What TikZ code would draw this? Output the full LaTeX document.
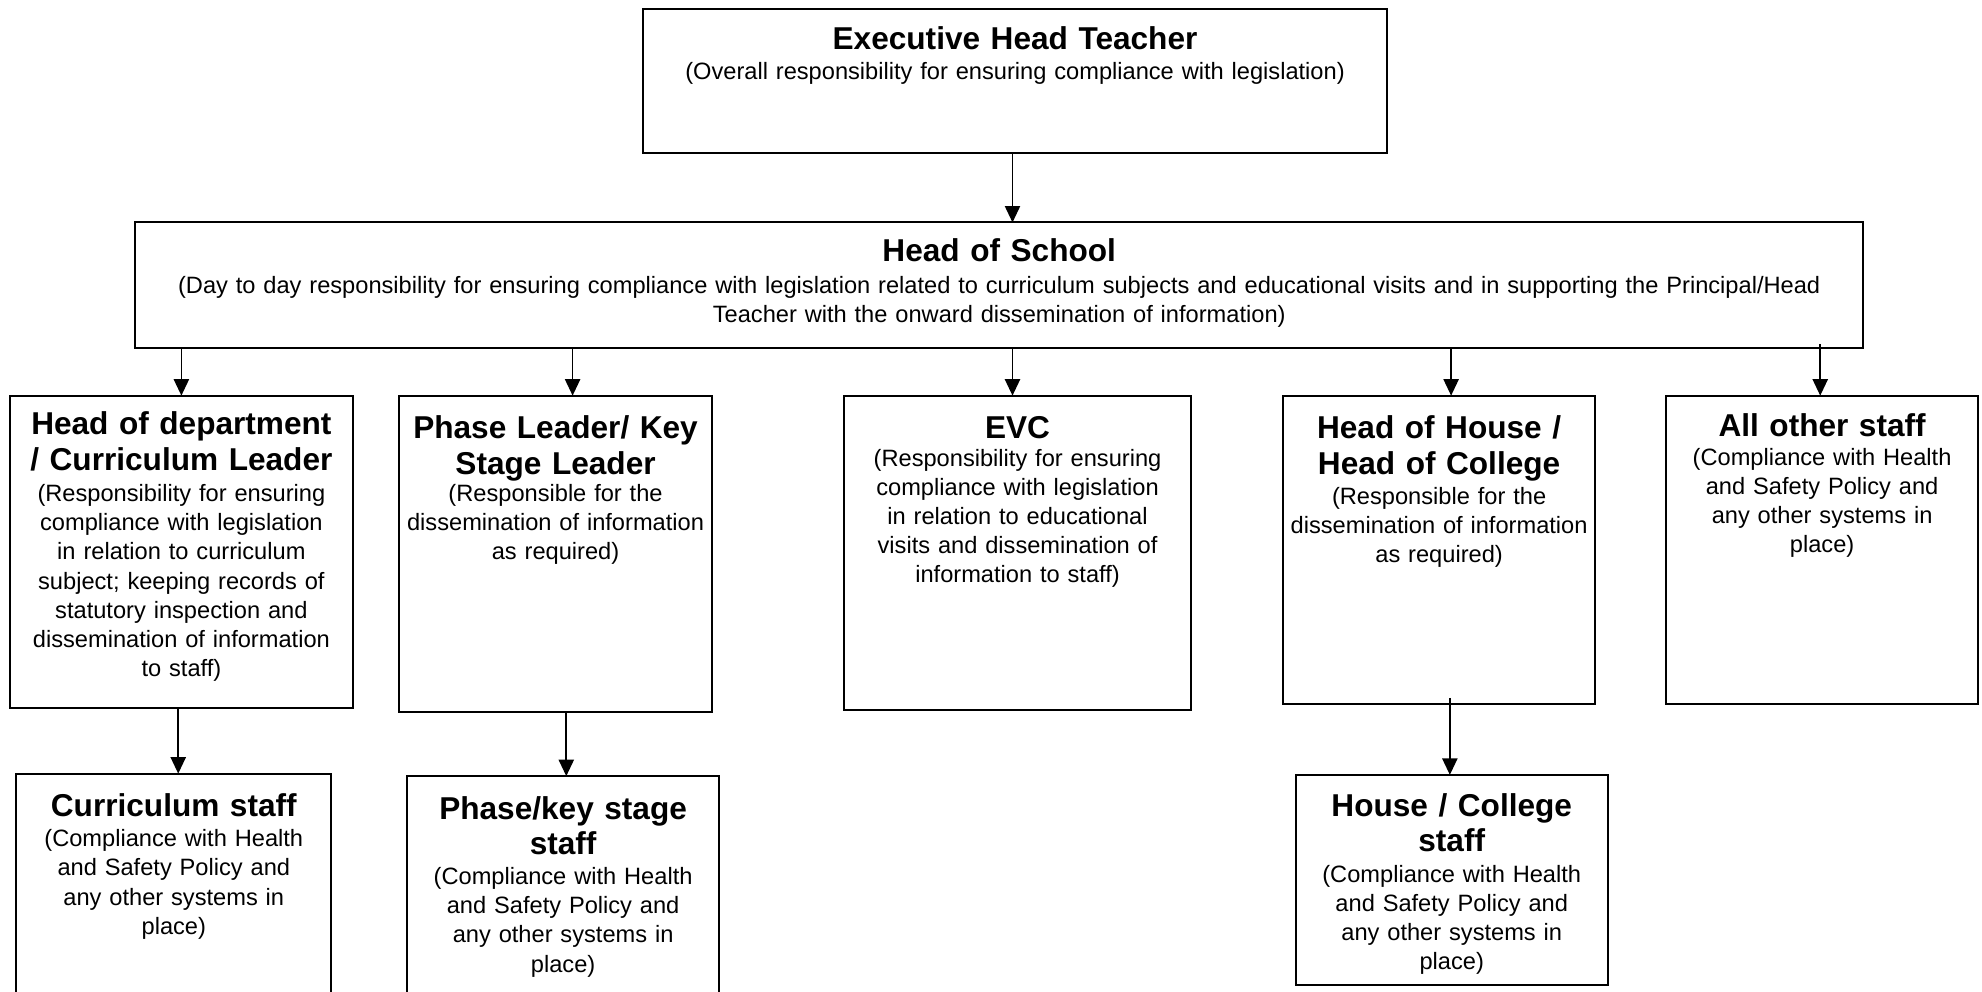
\documentclass[tikz,border=0pt]{standalone}
\usepackage{fontspec}
\setmainfont{Liberation Sans}
\usetikzlibrary{arrows.meta}
\tikzset{
  bx/.style={draw, line width=1.6pt, rectangle, inner sep=0pt, outer sep=0pt},
  ttl/.style={font=\fontsize{25}{28}\selectfont\bfseries, align=center, anchor=base, inner sep=0pt, text width=#1},
  bdy/.style={font=\fontsize{18.7}{23}\selectfont, align=center, anchor=base, inner sep=0pt, text width=#1},
  arr/.style={line width=1.3pt, -{Triangle[length=13pt,width=12pt]}},
}
\newcommand\orgbox[5]{%
  \node[bx, minimum width={(#4-#2)*1pt}, minimum height={(#5-#3)*1pt}] (#1) at ({(#2+#4)/2},{(#3+#5)/2}) {};}
\begin{document}
\begin{tikzpicture}[x=1pt,y=-1pt]
\useasboundingbox[fill=white] (0,0) rectangle (1568,784);
\clip (0,0) rectangle (1568,784);
% boxes
\orgbox{exec}{509}{7}{1097}{121}
\orgbox{hos}{107}{176}{1474}{275}
\orgbox{hod}{8}{313}{279}{560}
\orgbox{phase}{316}{313}{563}{563}
\orgbox{evc}{668}{313}{942}{562}
\orgbox{hoh}{1015}{313}{1262}{557}
\orgbox{all}{1318}{313}{1565}{557}
\orgbox{curr}{13}{612}{262}{800}
\orgbox{pstaff}{322}{614}{569}{800}
\orgbox{hstaff}{1025}{613}{1272}{779}
% texts
\node[ttl=580pt] (exec-t) at (803,39) {Executive Head Teacher};
\node[bdy=580pt] (exec-b) at (803,63) {(Overall responsibility for ensuring compliance with legislation)};
\node[ttl=1360pt] (hos-t) at (790.5,207) {Head of School};
\node[bdy=1360pt] (hos-b) at (790.5,232) {(Day to day responsibility for ensuring compliance with legislation related to curriculum subjects and educational visits and in supporting the Principal/Head\\Teacher with the onward dissemination of information)};
\node[ttl=268pt] (hod-t) at (143.5,344) {Head of department\\/ Curriculum Leader};
\node[bdy=268pt] (hod-b) at (143.5,397) {(Responsibility for ensuring\\compliance with legislation\\in relation to curriculum\\subject; keeping records of\\statutory inspection and\\dissemination of information\\to staff)};
\node[ttl=245pt] (phase-t) at (439.5,347) {Phase Leader/ Key\\Stage Leader};
\node[bdy=245pt] (phase-b) at (439.5,397) {(Responsible for the\\dissemination of information\\as required)};
\node[ttl=270pt] (evc-t) at (805,347) {EVC};
\node[bdy=270pt] (evc-b) at (805,369) {(Responsibility for ensuring\\compliance with legislation\\in relation to educational\\visits and dissemination of\\information to staff)};
\node[ttl=245pt] (hoh-t) at (1138.5,347) {Head of House /\\Head of College};
\node[bdy=245pt] (hoh-b) at (1138.5,399) {(Responsible for the\\dissemination of information\\as required)};
\node[ttl=245pt] (all-t) at (1441.5,345) {All other staff};
\node[bdy=245pt] (all-b) at (1441.5,368) {(Compliance with Health\\and Safety Policy and\\any other systems in\\place)};
\node[ttl=245pt] (curr-t) at (137.5,646) {Curriculum staff};
\node[bdy=245pt] (curr-b) at (137.5,670) {(Compliance with Health\\and Safety Policy and\\any other systems in\\place)};
\node[ttl=245pt] (pstaff-t) at (445.5,648) {Phase/key stage\\staff};
\node[bdy=245pt] (pstaff-b) at (445.5,700) {(Compliance with Health\\and Safety Policy and\\any other systems in\\place)};
\node[ttl=245pt] (hstaff-t) at (1148.5,646) {House / College\\staff};
\node[bdy=245pt] (hstaff-b) at (1148.5,698) {(Compliance with Health\\and Safety Policy and\\any other systems in\\place)};
% arrows
\draw[arr] ([xshift=-2pt]exec.south) -- ([xshift=-2pt]exec.south |- hos.north);
\draw[arr] (hos.south -| hod.north) -- (hod.north);
\draw[arr] ([xshift=13.5pt]phase.north |- hos.south) -- ([xshift=13.5pt]phase.north);
\draw[arr] ([xshift=-4pt]evc.north |- hos.south) -- ([xshift=-4pt]evc.north);
\draw[arr] ([xshift=9.5pt]hoh.north |- hos.south) -- ([xshift=9.5pt]hoh.north);
\draw[arr] ([xshift=-1.5pt,yshift=3pt]all.north |- hos.south) -- ([xshift=-1.5pt]all.north);
\draw[arr] ([xshift=3.5pt]curr.north |- hod.south) -- ([xshift=3.5pt]curr.north);
\draw[arr] ([xshift=2.5pt]pstaff.north |- phase.south) -- ([xshift=2.5pt]pstaff.north);
\draw[arr] ([xshift=-1.5pt,yshift=5pt]hstaff.north |- hoh.south) -- ([xshift=-1.5pt]hstaff.north);
\end{tikzpicture}
\end{document}
